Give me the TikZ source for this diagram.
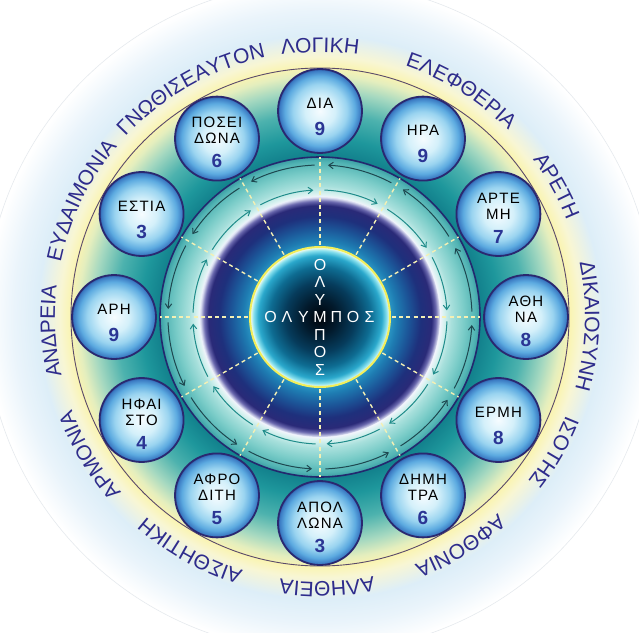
\documentclass[tikz,border=0pt]{standalone}
\usepackage{fontspec}
\setmainfont{Liberation Sans}
\newfontfamily\ringfont{Liberation Sans}
\newfontfamily\godfont[LetterSpace=8]{Liberation Sans}
\newfontfamily\olyfont[LetterSpace=0]{Liberation Sans}
\usetikzlibrary{decorations.text,arrows.meta}

\definecolor{ringtxt}{HTML}{2E2C8C}
\definecolor{godline}{HTML}{2A2870}
\definecolor{numcol}{HTML}{2B3594}
\definecolor{outarr}{HTML}{1E4850}
\definecolor{inarr}{HTML}{1F8C8A}
\definecolor{dashc}{HTML}{F4F0B4}
\definecolor{ringline}{HTML}{5A4A6A}
\definecolor{navyline}{HTML}{23286E}
\definecolor{yel}{HTML}{F2EE5A}
\definecolor{faintc}{HTML}{E6EAEE}
% glow
\definecolor{gA}{HTML}{FAF4B0}\definecolor{gB}{HTML}{F8F6D4}\definecolor{gC}{HTML}{DDEEF8}\definecolor{gD}{HTML}{EAF4FB}
% ring
\definecolor{rA}{HTML}{12808C}\definecolor{rB}{HTML}{1E979C}\definecolor{rC}{HTML}{4DB2AE}\definecolor{rD}{HTML}{A4D8C0}\definecolor{rE}{HTML}{E4EEBE}\definecolor{rF}{HTML}{F6F2B4}
% band
\definecolor{bA}{HTML}{F2F4FC}\definecolor{bB}{HTML}{D8F2F0}\definecolor{bC}{HTML}{A8E0DC}\definecolor{bD}{HTML}{7ACCC8}\definecolor{bE}{HTML}{52B4B4}\definecolor{bF}{HTML}{3A9EA4}
% navy ring
\definecolor{nA}{HTML}{2A96C4}\definecolor{nB}{HTML}{1E7CB2}\definecolor{nC}{HTML}{1C5598}\definecolor{nD}{HTML}{1E307C}\definecolor{nE}{HTML}{2A2A78}\definecolor{nF}{HTML}{6A68AE}\definecolor{nG}{HTML}{E6EAF8}
% core
\definecolor{cA}{HTML}{00040A}\definecolor{cB}{HTML}{021A2C}\definecolor{cC}{HTML}{063C5C}\definecolor{cD}{HTML}{0E6C92}\definecolor{cE}{HTML}{2AA8CC}\definecolor{cF}{HTML}{86E0EE}\definecolor{cG}{HTML}{E4F8EC}
% god discs
\definecolor{dA}{HTML}{F6FCFF}\definecolor{dB}{HTML}{D4F0FA}\definecolor{dC}{HTML}{9AD4F0}\definecolor{dD}{HTML}{5CAAE0}\definecolor{dE}{HTML}{3C7CC4}\definecolor{dF}{HTML}{2E5AA8}

% 25bp corresponds to the radius of the shaded circle
\pgfdeclareradialshading{bgglow}{\pgfpoint{0bp}{0bp}}{color(0bp)=(gA); color(18.3bp)=(gA); color(19.15bp)=(gB); color(20.75bp)=(gC); color(22.5bp)=(gD); color(24.5bp)=(white); color(100bp)=(white)}
\pgfdeclareradialshading{ringshade}{\pgfpoint{0bp}{0bp}}{color(0bp)=(rA); color(16.05bp)=(rA); color(18bp)=(rB); color(20.5bp)=(rC); color(22.75bp)=(rD); color(24.25bp)=(rE); color(25bp)=(rF); color(100bp)=(rF)}
\pgfdeclareradialshading{bandshade}{\pgfpoint{0bp}{0bp}}{color(0bp)=(bA); color(18.75bp)=(bA); color(19.3bp)=(bB); color(20.5bp)=(bC); color(22.5bp)=(bD); color(24.3bp)=(bE); color(25bp)=(bF); color(100bp)=(bF)}
\pgfdeclareradialshading{navyshade}{\pgfpoint{0bp}{0bp}}{color(0bp)=(nA); color(14.6bp)=(nA); color(16bp)=(nB); color(18.5bp)=(nC); color(21bp)=(nD); color(23.25bp)=(nE); color(24.15bp)=(nF); color(25bp)=(nG); color(100bp)=(nG)}
\pgfdeclareradialshading{coreshade}{\pgfpoint{0bp}{0bp}}{color(0bp)=(cA); color(6bp)=(cB); color(12.5bp)=(cC); color(18bp)=(cD); color(22bp)=(cE); color(23.75bp)=(cF); color(24.65bp)=(cG); color(100bp)=(cG)}
\pgfdeclareradialshading{godshade}{\pgfpoint{0bp}{0bp}}{color(0bp)=(dA); color(9bp)=(dB); color(16bp)=(dC); color(21bp)=(dD); color(24bp)=(dE); color(25bp)=(dF); color(100bp)=(dF)}

\tikzset{
  godc/.style={circle, minimum size=84pt, inner sep=0pt, shade, shading=godshade, draw=godline, line width=1.8pt},
  godname/.style={align=center, inner sep=0pt, font=\godfont\fontsize{15}{16}\selectfont, text=black},
  godnum/.style={inner sep=0pt, font=\fontsize{19}{19}\selectfont\bfseries, text=numcol},
  oly/.style={inner sep=0pt, text=white, font=\olyfont\fontsize{16}{16}\selectfont},
  outarrow/.style={draw=outarr, line width=1pt, -{Straight Barb[length=4.5pt,width=6.5pt]}},
  inarrow/.style={draw=inarr, line width=1pt, -{Straight Barb[length=4.5pt,width=6.5pt]}},
  dashline/.style={draw=dashc, line width=1.4pt, dash pattern=on 4pt off 3.2pt},
}

\begin{document}
\begin{tikzpicture}[x=1pt,y=1pt]
\useasboundingbox (-320pt,-315pt) rectangle (319pt,317pt);
\fill[white] (-320pt,-315pt) rectangle (319pt,317pt);

% outer glow
\shade[shading=bgglow] (0,0) circle[radius=340pt];
\draw[faintc, line width=0.6pt] (0,0) circle[radius=335pt];

% ring zone with gods
\shade[shading=ringshade] (0,0) circle[radius=249pt];
\draw[ringline, line width=0.9pt] (0,0) circle[radius=249pt];

% light band with arrows
\shade[shading=bandshade] (0,0) circle[radius=160pt];
\draw[navyline, line width=1.6pt] (0,0) circle[radius=160pt];

% navy ring
\shade[shading=navyshade] (0,0) circle[radius=120pt];

% core
\shade[shading=coreshade] (0,0) circle[radius=70pt];
\draw[yel, line width=2pt] (0,0) circle[radius=70pt];

% radial dashed lines
\foreach \t in {0,30,...,330}
  \draw[dashline] (\t:72pt) -- (\t:160pt);

% arrows
\foreach \t in {0,30,...,330}{
  \draw[outarrow] (\t+2:152pt) arc[start angle=\t+2, end angle=\t+27, radius=152pt];
  \draw[inarrow] (\t+28:127pt) arc[start angle=\t+28, end angle=\t+3, radius=127pt];
}

% gods
\foreach \i/\a/\nm/\ky/\num in {
  1/90/{ΔΙΑ}/-17.5/9,
  2/60/{ΗΡΑ}/-17.5/9,
  3/30/{ΑΡΤΕ\\ΜΗ}/-22.5/7,
  4/0/{ΑΘΗ\\ΝΑ}/-22.5/8,
  5/-30/{ΕΡΜΗ}/-17.5/8,
  6/-60/{ΔΗΜΗ\\ΤΡΑ}/-22.5/6,
  7/-90/{ΑΠΟΛ\\ΛΩΝΑ}/-22.5/3,
  8/-120/{ΑΦΡΟ\\ΔΙΤΗ}/-22.5/5,
  9/-150/{ΗΦΑΙ\\ΣΤΟ}/-22.5/4,
  10/180/{ΑΡΗ}/-17.5/9,
  11/150/{ΕΣΤΙΑ}/-17.5/3,
  12/120/{ΠΟΣΕΙ\\ΔΩΝΑ}/-22.5/6}{
  \node[godc] (g\i) at (\a:206pt) {};
  \node[godname] (n\i) at ([yshift=8pt]g\i.center) {\nm};
  \node[godnum] (k\i) at ([yshift=\ky pt]g\i.center) {\num};
}

% outer ring words
\begin{scope}
\ringfont\fontsize{21}{24}\selectfont
\foreach \a/\word in {90/ΛΟΓΙΚΗ, 58/ΕΛΕΦΘΕΡΙΑ, 29/ΑΡΕΤΗ, -2/ΔΙΚΑΙΟΣΥΝΗ,
  -30/ΙΣΟΤΗΣ, -58.5/ΑΦΘΟΝΙΑ, -88.5/ΑΛΗΘΕΙΑ, -119/ΑΙΣΘΗΤΙΚΗ,
  -149/ΑΡΜΟΝΙΑ, -177/ΑΝΔΡΕΙΑ, 154/ΕΥΔΑΙΜΟΝΙΑ, 119.5/ΓΝΩΘΙΣΕΑΥΤΟΝ}
  \path[decorate, decoration={text along path, text/.expanded=\word,
      text align=center, text color=ringtxt}]
    (\a+35:265pt) arc[start angle=\a+35, end angle=\a-35, radius=265pt];
\end{scope}

% OLYMPOS cross
\foreach \l [count=\i] in {Ο,Λ,Υ,Μ,Π,Ο,Σ}
  \node[oly] (h\i) at ({(\i-4)*16.5pt},0pt) {\l};
\foreach \l [count=\i] in {Ο,Λ,Υ,Μ,Π,Ο,Σ}{
  \ifnum\i=4\else
    \node[oly] (v\i) at (0pt,{-(\i-4)*17.5pt}) {\l};
  \fi
}
\end{tikzpicture}
\end{document}
